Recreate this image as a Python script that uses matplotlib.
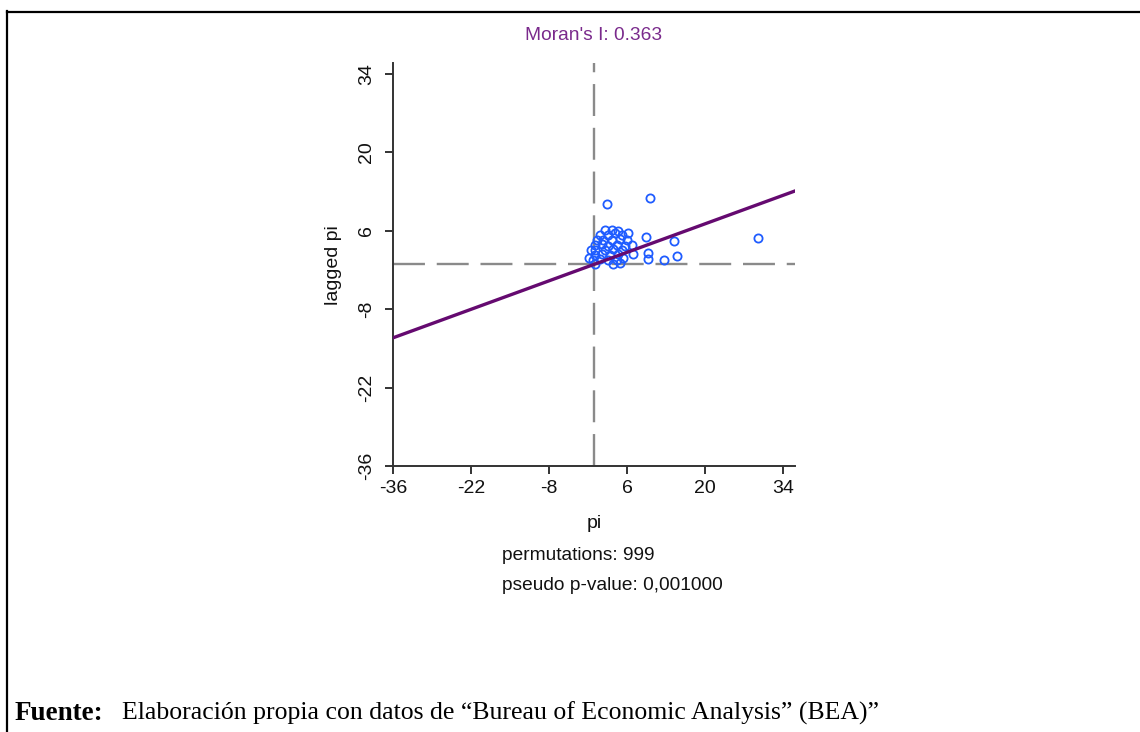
import matplotlib
matplotlib.use("Agg")
import matplotlib.pyplot as plt
from matplotlib.lines import Line2D

plt.rcParams["font.family"] = ["Liberation Sans", "DejaVu Sans"]
plt.rcParams["lines.scale_dashes"] = False

# Moran scatter plot data: pi (x) and its spatial lag (y)
pi_values = [2.3, 10.1, 29.5, 14.3, 9.4, 14.9, 12.6, 9.8, 9.8, 7.1,
             2.0, 3.2, 4.4, 1.1, 2.6, 3.8, 5.0, 6.2,
             0.5, 1.7, 3.2, 4.7, 5.9,
             0.2, 1.4, 2.6, 4.1, 5.6, 6.8,
             0.2, 2.0, 3.5, 5.0, -0.6,
             0.2, 1.4, 2.9, 4.4,
             -0.1, 1.1, 2.6, 4.1, 5.3, -0.8,
             0.2, 3.5, 4.7]
lagged_pi = [10.8, 11.8, 4.7, 4.1, 4.9, 1.5, 0.8, 2.1, 1.0, 1.8,
             6.1, 6.1, 6.0, 5.3, 5.3, 5.6, 5.3, 5.6,
             4.4, 4.4, 4.4, 4.5, 4.4,
             3.5, 3.6, 3.3, 3.5, 3.3, 3.5,
             2.6, 2.6, 2.8, 2.6, 2.6,
             1.7, 1.8, 1.7, 1.8,
             0.8, 1.0, 0.8, 0.8, 1.1, 1.2,
             0.0, 0.0, 0.2]

morans_i = 0.363
permutations = 999
pseudo_p = "0,001000"
tick_values = [-36, -22, -8, 6, 20, 34]

W, H = 1140, 732
fig = plt.figure(figsize=(W / 100, H / 100), dpi=100)

def fx(px):
    return px / W

def fy(py):
    return 1 - py / H

# outer frame (top and left rules)
fig.add_artist(Line2D([fx(7), fx(7)], [fy(11), 0], color="black", lw=1.6,
                      transform=fig.transFigure))
fig.add_artist(Line2D([fx(7), 1], [fy(12), fy(12)], color="black", lw=1.6,
                      transform=fig.transFigure))

ax_l, ax_r, ax_t, ax_b = 393.3, 795, 63, 466.3
ax = fig.add_axes([fx(ax_l), fy(ax_b), fx(ax_r - ax_l), (ax_b - ax_t) / H])
ax.set_xlim(-36, -36 + (ax_r - ax_l) / 5.571)
ax.set_ylim(-36, -36 + (ax_b - ax_t) / 5.607)

for side in ("top", "right"):
    ax.spines[side].set_visible(False)
for side in ("left", "bottom"):
    ax.spines[side].set_color("#333333")
    ax.spines[side].set_linewidth(1.4)

ax.set_xticks(tick_values)
ax.set_yticks(tick_values)
ax.set_xticklabels([str(v) for v in tick_values])
ax.set_yticklabels([str(v) for v in tick_values], rotation=90, va="center")
ax.tick_params(axis="both", direction="out", length=6, width=1.4,
               color="#333333", labelsize=14, labelcolor="#111111")
ax.tick_params(axis="x", pad=4)
ax.tick_params(axis="y", pad=7)

# mean reference lines
dash_style = dict(color="#8a8a8a", lw=1.7, dashes=(23, 8.5), zorder=1)
ax.axhline(0, **dash_style)
ax.axvline(0, **dash_style)

ax.plot(pi_values, lagged_pi, linestyle="none", marker="o", ms=5.9,
        mfc="none", mec="#1f5cff", mew=1.3, zorder=2, clip_on=False)

# regression line with slope equal to Moran's I
ax.axline((0, 0), slope=morans_i, color="#650a70", lw=2.4, zorder=3)

fig.text(fx(594), fy(36), f"Moran's I: {morans_i:.3f}", ha="center",
         va="center", fontsize=13.8, color="#7a2a8c")
fig.text(fx(594), fy(523), "pi", ha="center", va="center", fontsize=14,
         color="#111111")
fig.text(fx(333), fy(265), "lagged pi", ha="center", va="center",
         rotation=90, fontsize=14, color="#111111")
fig.text(fx(502), fy(556), f"permutations: {permutations}", ha="left",
         va="center", fontsize=13.8, color="#111111")
fig.text(fx(502), fy(585), f"pseudo p-value: {pseudo_p}", ha="left",
         va="center", fontsize=13.8, color="#111111")

fig.text(fx(15), fy(713), "Fuente:", ha="left", va="center",
         fontsize=19.5, fontweight="bold", family="Liberation Serif")
fig.text(fx(122), fy(713),
         "Elaboración propia con datos de \u201cBureau of Economic Analysis\u201d (BEA)\u201d",
         ha="left", va="center", fontsize=18.5, family="Liberation Serif")

fig.savefig("out.png", dpi=100, facecolor="white")
